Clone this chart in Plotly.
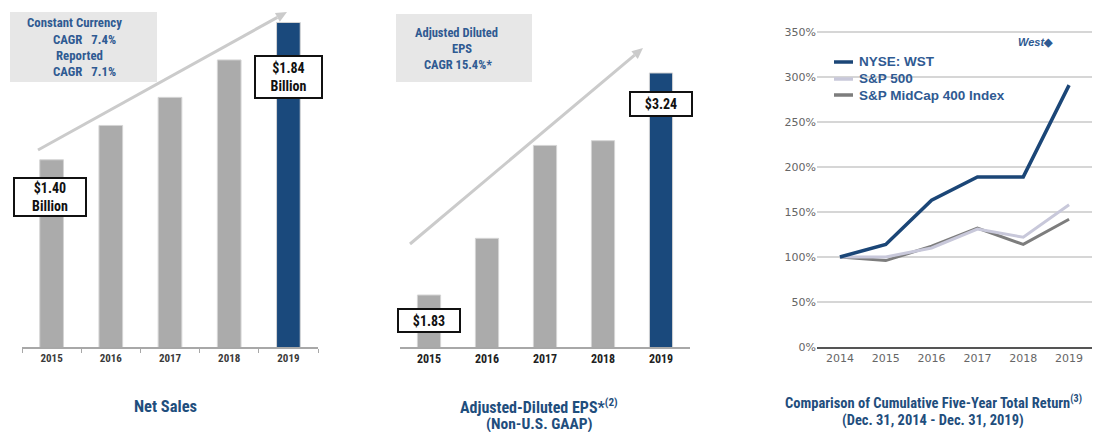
import math
import plotly.graph_objects as go

W, H = 1109, 432

# ---- data ----
sales_years = ["2015", "2016", "2017", "2018", "2019"]
net_sales = [1.40, 1.51, 1.60, 1.72, 1.84]

eps_years = ["2015", "2016", "2017", "2018", "2019"]
adj_eps = [1.83, 2.19, 2.78, 2.81, 3.24]

tr_years = [2014, 2015, 2016, 2017, 2018, 2019]
wst = [100, 114, 163, 189, 189, 291]
sp500 = [100, 100, 110, 131, 122, 158]
midcap = [100, 96, 112, 132, 114, 142]
pct_ticks = [0, 50, 100, 150, 200, 250, 300, 350]

GRAY = "#ababab"
BLUE = "#1a497c"
TXTBLUE = "#2f5a92"
TITLEBLUE = "#1f4e7d"
WST_C, SP_C, MID_C = "#1b4677", "#c8c8da", "#7d7d7d"
FONT = "Liberation Sans Narrow, Arial Narrow, Roboto Condensed, Liberation Sans, sans-serif"
WIDEFONT = "Liberation Sans, Arial, sans-serif"


def px(x):
    return x / W


def py(y):
    return 1 - y / H


sx = list(range(len(sales_years)))
ex = list(range(len(eps_years)))

fig = go.Figure()
fig.add_trace(go.Bar(x=sx, y=net_sales, width=0.4,
                     marker=dict(color=[GRAY] * 4 + [BLUE], line=dict(width=1, color="#d4d4d4")),
                     showlegend=False, xaxis="x", yaxis="y"))
fig.add_trace(go.Bar(x=ex, y=adj_eps, width=0.4,
                     marker=dict(color=[GRAY] * 4 + [BLUE], line=dict(width=1, color="#d4d4d4")),
                     showlegend=False, xaxis="x2", yaxis="y2"))
fig.add_trace(go.Scatter(x=tr_years, y=midcap, mode="lines", name="S&P MidCap 400 Index",
                         line=dict(color=MID_C, width=3), xaxis="x3", yaxis="y3",
                         showlegend=False))
fig.add_trace(go.Scatter(x=tr_years, y=sp500, mode="lines", name="S&P 500",
                         line=dict(color=SP_C, width=3), xaxis="x3", yaxis="y3",
                         showlegend=False))
fig.add_trace(go.Scatter(x=tr_years, y=wst, mode="lines", name="NYSE: WST",
                         line=dict(color=WST_C, width=3.5), xaxis="x3", yaxis="y3",
                         showlegend=False))

base = 347
bounds = [i - 0.5 for i in range(len(sales_years) + 1)]

layout = dict(
    width=W, height=H,
    margin=dict(l=0, r=0, t=0, b=0, pad=0, autoexpand=False),
    paper_bgcolor="white", plot_bgcolor="rgba(0,0,0,0)",
    showlegend=False,
    xaxis=dict(domain=[px(22), px(318)], range=[-0.5, 4.5], anchor="y", automargin=False,
               tickvals=sx, ticktext=sales_years, ticks="",
               showline=True, linecolor="#a8a8a8", linewidth=1.5,
               minor=dict(tickvals=bounds, ticks="outside", ticklen=4, tickcolor="#a8a8a8",
                          showgrid=False),
               tickfont=dict(family=FONT, size=11, color="#3a3a3a", weight="bold"),
               showgrid=False, zeroline=False),
    yaxis=dict(domain=[py(base), py(10)], range=[0.80, 1.88], visible=False,
               showgrid=False, anchor="x", automargin=False),
    xaxis2=dict(domain=[px(400), px(690)], range=[-0.5, 4.5], anchor="y2", automargin=False,
                tickvals=ex, ticktext=eps_years, ticks="",
                showline=True, linecolor="#a8a8a8", linewidth=1.5,
                tickfont=dict(family=FONT, size=12, color="#222222", weight="bold"),
                showgrid=False, zeroline=False),
    yaxis2=dict(domain=[py(base), py(10)], range=[1.5, 1.5 + 337 * 0.00635], visible=False,
                showgrid=False, anchor="x2", automargin=False),
    xaxis3=dict(domain=[px(817), px(1092)], range=[2013.5, 2019.5], anchor="y3",
                automargin=False,
                tickvals=tr_years, ticktext=[str(t) for t in tr_years], ticks="",
                showgrid=False, zeroline=False,
                showline=True, linecolor="#555555", linewidth=1.5,
                tickfont=dict(family="DejaVu Sans", size=11, color="#666666")),
    yaxis3=dict(domain=[py(base), py(23)], range=[0, 360], anchor="x3", automargin=False,
                tickvals=pct_ticks, ticktext=[f"{v}%" for v in pct_ticks],
                showgrid=True, gridcolor="#d6d6d6", gridwidth=1.5, zeroline=False,
                ticks="", tickfont=dict(family="DejaVu Sans", size=11, color="#666666")),
)
fig.update_layout(**layout)

shapes = [
    dict(type="rect", xref="paper", yref="paper", x0=px(10), x1=px(157), y0=py(82), y1=py(12),
         fillcolor="#e7e7e7", line=dict(width=0), layer="below"),
    dict(type="rect", xref="paper", yref="paper", x0=px(396), x1=px(532), y0=py(82), y1=py(14),
         fillcolor="#e7e7e7", line=dict(width=0), layer="below"),
]


def arrow(x0, y0, x1, y1, color="#cbcbcb", width=3, hl=11, hw=5):
    ang = math.atan2(y1 - y0, x1 - x0)
    bx, by = x1 - hl * math.cos(ang), y1 - hl * math.sin(ang)
    nx, ny = -math.sin(ang), math.cos(ang)
    shapes.append(dict(type="line", xref="paper", yref="paper",
                       x0=px(x0), y0=py(y0), x1=px(bx), y1=py(by),
                       line=dict(color=color, width=width)))
    pts = [(x1, y1), (bx + hw * nx, by + hw * ny), (bx - hw * nx, by - hw * ny)]
    path = "M " + " L ".join(f"{px(a):.5f},{py(b):.5f}" for a, b in pts) + " Z"
    shapes.append(dict(type="path", xref="paper", yref="paper", path=path,
                       fillcolor=color, line=dict(width=0)))


arrow(38, 150, 287, 12)
arrow(410, 244, 643, 48)

ann = []


def txt(x, y, s, size=12.8, color=TXTBLUE, bold=True, font=FONT, **kw):
    d = dict(xref="paper", yref="paper", x=px(x), y=py(y), text=s, showarrow=False,
             xanchor="center", yanchor="middle",
             font=dict(family=font, size=size, color=color, weight="bold" if bold else "normal"))
    d.update(kw)
    ann.append(d)


# manual legend (right chart)
legend_items = [("NYSE: WST", WST_C, 62), ("S&P 500", SP_C, 79), ("S&P MidCap 400 Index", MID_C, 95)]
for name, col, yy in legend_items:
    shapes.append(dict(type="line", xref="paper", yref="paper", x0=px(834), x1=px(853),
                       y0=py(yy), y1=py(yy), line=dict(color=col, width=3.5)))
    txt(857, yy, name, size=13.5, font=WIDEFONT, xanchor="left")

fig.update_layout(shapes=shapes)

# left box text
txt(74, 23, "Constant Currency")
txt(84, 39, "CAGR\u00a0\u00a0\u00a07.4%")
txt(79, 55, "Reported")
txt(84, 71, "CAGR\u00a0\u00a0\u00a07.1%")
# middle box text
txt(456, 32, "Adjusted Diluted", size=12.5)
txt(462, 48, "EPS", size=12.5)
txt(458, 64, "CAGR 15.4%*", size=12.5)


def valbox(xref, xv, y, s, w, h):
    ann.append(dict(xref=xref, yref="paper", x=xv, y=py(y), text=s, showarrow=False,
                    xanchor="center", yanchor="middle", align="center",
                    bgcolor="white", bordercolor="#111111", borderwidth=2, borderpad=1,
                    width=w, height=h,
                    font=dict(family=FONT, size=14, color="#111111", weight="bold")))


valbox("x", sx[0] - 0.02, 197, f"${net_sales[0]:.2f}<br>Billion", 68, 34)
valbox("x", sx[-1], 77, f"${net_sales[-1]:.2f}<br>Billion", 63, 38)
valbox("x2", ex[0], 320, f"${adj_eps[0]:.2f}", 58, 19)
valbox("x2", ex[-1], 104, f"${adj_eps[-1]:.2f}", 58, 20)

# titles
txt(165, 406, "Net Sales", size=16.5, color=TITLEBLUE)
txt(539, 406, "Adjusted-Diluted EPS*<sup>(2)</sup>", size=16, color=TITLEBLUE)
txt(539, 424, "(Non-U.S. GAAP)", size=15.5, color=TITLEBLUE)
txt(933, 402, "Comparison of Cumulative Five-Year Total Return<sup>(3)</sup>", size=14.5, color=TITLEBLUE)
txt(933, 420, "(Dec. 31, 2014 - Dec. 31, 2019)", size=14.5, color=TITLEBLUE)

# West logo
txt(1035, 42, "<i>West</i>\u25c6", size=11, color=TXTBLUE, font=WIDEFONT)

fig.update_layout(annotations=ann)

fig.write_html(
    "out.html",
    config={"displayModeBar": False},
    post_script=(
        "document.documentElement.style.overflow='hidden';"
        "document.body.style.margin='0px';document.body.style.overflow='hidden';"
    ),
)
